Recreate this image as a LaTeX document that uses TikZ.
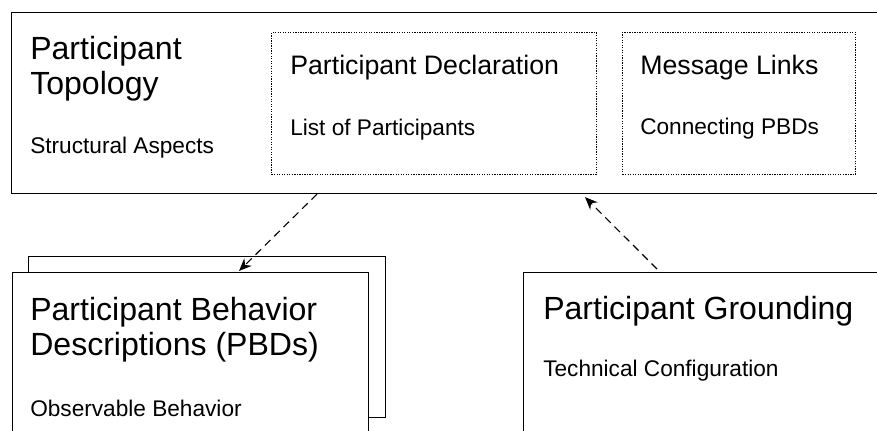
\documentclass[tikz,border=0pt]{standalone}
\usepackage{fontspec}
\setmainfont{Liberation Sans}
\usetikzlibrary{arrows.meta,calc}

\tikzset{
  box/.style={draw, line width=0.8pt, fill=white, inner sep=0pt, anchor=north west},
  subbox/.style={draw, line width=0.7pt, dash pattern=on 0.9pt off 0.9pt, inner sep=0pt, anchor=north west},
  title/.style={anchor=base west, inner sep=0pt, align=left, font=\fontsize{22.8}{25.2}\selectfont},
  subtitle/.style={anchor=base west, inner sep=0pt, font=\fontsize{19}{22}\selectfont},
  note/.style={anchor=base west, inner sep=0pt, font=\fontsize{16.1}{18}\selectfont},
  link/.style={line width=0.8pt, dash pattern=on 5.5pt off 3.8pt, -{Stealth[length=9pt,width=7.5pt]}}
}

\begin{document}
\begin{tikzpicture}[x=0.025cm, y=-0.025cm]
  %page: 877 x 431 px, y down
  \useasboundingbox (0,0) rectangle (877,431);
  \clip (0,0) rectangle (877,431);

  %topology (base = last line)
  \node[box, minimum width=900*0.025cm, minimum height=181*0.025cm] (topo) at (11,12) {};
  \node[title] (topot) at (30,95) {Participant\\Topology};
  \node[note] (topon) at (30,154) {Structural Aspects};

  \node[subbox, minimum width=325*0.025cm, minimum height=142*0.025cm] (decl) at (271,32) {};
  \node[subtitle] (declt) at (290,74.5) {Participant Declaration};
  \node[note] (decln) at (290,136) {List of Participants};

  \node[subbox, minimum width=233*0.025cm, minimum height=142*0.025cm] (msg) at (622,32) {};
  \node[subtitle] (msgt) at (640,74.5) {Message Links};
  \node[note] (msgn) at (640,135) {Connecting PBDs};

  %behavior descriptions (stacked)
  \node[box, minimum width=357*0.025cm, minimum height=161*0.025cm] (pbdback) at (28,256) {};
  \node[box, minimum width=356*0.025cm, minimum height=200*0.025cm] (pbd) at (12,272) {};
  \node[title] (pbdt) at (30,356) {Participant Behavior\\Descriptions (PBDs)};
  \node[note] (pbdn) at (30,417) {Observable Behavior};

  %grounding
  \node[box, minimum width=400*0.025cm, minimum height=200*0.025cm] (grd) at (523,272) {};
  \node[title] (grdt) at (543,320) {Participant Grounding};
  \node[note] (grdn) at (543,377) {Technical Configuration};

  %links
  \draw[link] ($(topo.south west)+(306,0)$) -- ($(pbd.north west)+(227,-1)$);
  \draw[link] ($(grd.north west)+(134,-3)$) -- ($(topo.south west)+(574,3)$);
\end{tikzpicture}
\end{document}
